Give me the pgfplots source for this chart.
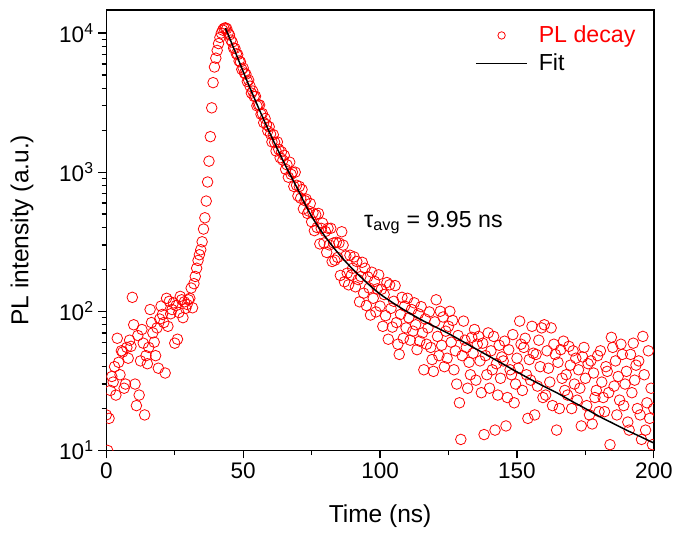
\documentclass[border=0pt]{standalone}
\usepackage{pgfplots}
\pgfplotsset{compat=1.18}
\usepackage{fontspec}
\setmainfont{Liberation Sans}

\pgfplotsset{
    markleg/.style={legend image code/.code={\draw[mark repeat=2,mark phase=2,##1,mark size=2.8pt] plot coordinates {(0pt,0pt) (19.5pt,0pt) (39pt,0pt)}; \path (45pt,0pt);}},
    lineleg/.style={legend image code/.code={\draw[##1] (0pt,0pt) -- (39pt,0pt); \path (45pt,0pt);}},
}

\begin{document}
\begin{tikzpicture}
\begin{axis}[
    name=ax,
    scale only axis,
    width=413.25pt, height=332.5pt,
    xmin=0, xmax=200,
    ymode=log, ymin=10, ymax=14660,
    clip marker paths=true,
    axis line style={line width=1.1pt},
    every tick/.style={black, line width=1pt},
    tick align=outside,
    xtick pos=left, ytick pos=left,
    xtick={0,50,100,150,200},
    xticklabels={0,50,100,150,200},
    minor xtick={25,75,125,175},
    ytick={10,100,1000,10000},
    yticklabels={10\textsuperscript{1},10\textsuperscript{2},10\textsuperscript{3},10\textsuperscript{4}},
    minor ytick={20,30,40,50,60,70,80,90,200,300,400,500,600,700,800,900,2000,3000,4000,5000,6000,7000,8000,9000},
    major tick length=6pt, minor tick length=3.5pt,
    tick label style={font=\fontsize{17}{20}\selectfont},
    xlabel={Time (ns)}, ylabel={PL intensity (a.u.)},
    label style={font=\fontsize{18.5}{22}\selectfont},
    xlabel style={at={(axis description cs:0.5,-0.15)}, anchor=center},
    ylabel style={at={(axis description cs:-0.154,0.5)}, anchor=center},
    legend style={draw=none, fill=none, at={(axis description cs:0.673,0.97)}, anchor=north west,
        font=\fontsize{17.5}{21}\selectfont, row sep=3pt, inner sep=0pt},
    legend cell align=left,
]
% measured decay
\addplot[only marks, mark=o, red, mark size=4pt, mark options={line width=0.6pt}, markleg]
coordinates {
(0.0,18) (0.5,10) (1.0,17) (1.5,27) (2.0,34) (2.5,31) (3.0,40) (3.5,25) (4.0,64) (4.5,43)
(5.0,35) (5.5,52) (6.0,51) (6.5,28) (7.0,30) (7.5,55) (8.0,46) (8.5,62) (9.0,56) (9.5,126)
(10.0,80) (10.5,30) (11.0,21) (11.5,67) (12.0,25) (12.5,44) (13.0,74) (13.5,59) (14.0,18) (14.5,48)
(15.0,42) (15.5,55) (16.0,103) (16.5,83) (17.0,70) (17.5,60) (18.0,48) (18.5,76) (19.0,39) (19.5,88)
(20.0,109) (20.5,95) (21.0,83) (21.5,36) (22.0,124) (22.5,78) (23.0,118) (23.5,96) (24.0,103) (24.5,115)
(25.0,59) (25.5,110) (26.0,63) (26.5,98) (27.0,128) (27.5,121) (28.0,90) (28.5,117) (29.0,105) (29.5,112)
(30.0,121) (30.5,124) (31.0,147) (31.5,106) (32.0,158) (32.5,178) (33.0,204) (33.5,232) (34.0,255) (34.5,277)
(35.0,316) (35.5,390) (36.0,470) (36.5,620) (37.0,850) (37.5,1200) (38.0,1800) (38.5,2900) (39.0,4400) (39.5,5700)
(40.0,6600) (40.5,7500) (41.0,8400) (41.5,9300) (42.0,10000) (42.5,10500) (43.0,10800) (43.5,10900) (44.0,10750) (44.5,10000)
(45.0,9700) (45.5,8900) (46.0,8600) (46.5,7800) (47.0,7750) (47.5,7100) (48.0,7000) (48.5,6300) (49.0,6200) (49.5,5480)
(50.0,5600) (50.5,5150) (51.0,5060) (51.5,4490) (52.0,4590) (52.5,4150) (53.0,3700) (53.5,3830) (54.0,3500) (54.5,3510)
(55.0,3000) (55.5,3050) (56.0,3040) (56.5,2610) (57.0,2640) (57.5,2270) (58.0,2430) (58.5,2200) (59.0,1980) (59.5,2120)
(60.0,1880) (60.5,1650) (61.0,1860) (61.5,1640) (62.0,1420) (62.5,1650) (63.0,1460) (63.5,1270) (64.0,1400) (64.5,1220)
(65.0,1320) (65.5,1050) (66.0,1130) (66.5,920) (67.0,1180) (67.5,965) (68.0,1000) (68.5,790) (69.0,1000) (69.5,805)
(70.0,675) (70.5,790) (71.0,650) (71.5,750) (72.0,545) (72.5,625) (73.0,640) (73.5,505) (74.0,525) (74.5,595)
(75.0,440) (75.5,510) (76.0,380) (76.5,495) (77.0,400) (77.5,505) (78.0,305) (78.5,395) (79.0,430) (79.5,310)
(80.0,375) (80.5,265) (81.0,395) (81.5,300) (82.0,395) (82.5,228) (83.0,310) (83.5,233) (84.0,313) (84.5,244)
(85.0,310) (85.5,181) (86.0,373) (86.5,299) (87.0,163) (87.5,250) (88.0,188) (88.5,155) (89.0,253) (89.5,182)
(90.0,204) (90.5,246) (91.0,150) (91.5,228) (92.0,169) (92.5,117) (93.0,178) (93.5,225) (94.0,135) (94.5,204)
(95.0,110) (95.5,177) (96.0,147) (96.5,94) (97.0,191) (97.5,124) (98.0,164) (98.5,99) (99.0,145) (99.5,183)
(100.0,109) (100.5,144) (101.0,78) (101.5,132) (102.0,93) (102.5,161) (103.0,63) (103.5,155) (104.0,105) (104.5,77)
(105.0,118) (105.5,153) (106.0,83) (106.5,58) (107.0,49) (107.5,95) (108.0,126) (108.5,64) (109.0,109) (109.5,76)
(110.0,124) (110.5,90) (111.0,62) (111.5,103) (112.0,72) (112.5,115) (113.0,80) (113.5,53) (114.0,96) (114.5,61)
(115.0,108) (115.5,70) (116.0,38) (116.5,88) (117.0,58) (117.5,76) (118.0,99) (118.5,55) (119.0,45) (119.5,37)
(120.0,84) (120.5,121) (121.0,66) (121.5,48) (122.0,100) (122.5,57) (123.0,91) (123.5,40) (124.0,72) (124.5,46)
(125.0,78) (125.5,100) (126.0,60) (126.5,86) (127.0,38) (127.5,52) (128.0,30) (128.5,67) (129.0,22) (129.5,12)
(130.0,48) (130.5,85) (131.0,62) (131.5,55) (132.0,28) (132.5,43) (133.0,35) (133.5,65) (134.0,50) (134.5,74)
(135.0,32) (135.5,58) (136.0,66) (136.5,44) (137.0,26) (137.5,59) (138.0,13) (138.5,48) (139.0,35) (139.5,70)
(140.0,28) (140.5,52) (141.0,38) (141.5,66) (142.0,14) (142.5,42) (143.0,25) (143.5,57) (144.0,33) (144.5,47)
(145.0,44) (145.5,61) (146.0,15) (146.5,24) (147.0,53) (147.5,38) (148.0,35) (148.5,68) (149.0,22) (149.5,30)
(150.0,46) (150.5,39) (151.0,85) (151.5,58) (152.0,27) (152.5,55) (153.0,64) (153.5,35) (154.0,17) (154.5,45)
(155.0,32) (155.5,78) (156.0,50) (156.5,18) (157.0,49) (157.5,29) (158.0,62) (158.5,40) (159.0,76) (159.5,24)
(160.0,80) (160.5,25) (161.0,52) (161.5,39) (162.0,31) (162.5,76) (163.0,21) (163.5,58) (164.0,49) (164.5,14)
(165.0,43) (165.5,20) (166.0,53) (166.5,33) (167.0,61) (167.5,27) (168.0,35) (168.5,25) (169.0,56) (169.5,41)
(170.0,20) (170.5,52) (171.0,30) (171.5,46) (172.0,23) (172.5,38) (173.0,28) (173.5,15) (174.0,47) (174.5,55)
(175.0,33) (175.5,21) (176.0,42) (176.5,18) (177.0,44) (177.5,15.5) (178.0,36) (178.5,24) (179.0,27) (179.5,48)
(180.0,19) (180.5,52) (181.0,31) (181.5,24) (182.0,19) (182.5,40) (183.0,37) (183.5,26) (184.0,11) (184.5,65)
(185.0,55) (185.5,29) (186.0,44) (186.5,18) (187.0,34) (187.5,23) (188.0,58) (188.5,49) (189.0,21) (189.5,30)
(190.0,37) (190.5,16) (191.0,14) (191.5,49) (192.0,26) (192.5,59) (193.0,32) (193.5,41) (194.0,20) (194.5,44)
(195.0,18) (195.5,12) (196.0,66) (196.5,35) (197.0,14) (197.5,22) (198.0,52) (198.5,17) (199.0,28) (199.5,11)
(200.0,20)
};
\addlegendentry[text=red]{PL decay}
% fitted curve
\addplot[black, line width=1.1pt, smooth, lineleg]
coordinates {
(43.5,10840) (45,9230) (48,6610) (51,4730) (54,3430) (57,2510) (60,1860) (63,1400) (66,1060)
(70,750) (73,569) (76,447) (80,343) (84,272) (88,221) (92,184) (96,155) (100,133)
(105,114) (110,99) (115,87) (120,77.6) (125,69.2) (130,61) (135,53.7) (140,47.3) (145,41.7)
(150,36.7) (155,32.4) (160,28.8) (165,25.7) (170,22.6) (175,20) (180,17.6) (185,15.7)
(190,14) (195,12.6) (200,11.3)
};
\addlegendentry{Fit}
\node[anchor=base west, font=\fontsize{17.5}{21}\selectfont] at (axis cs:92.5,400) {τ\textsubscript{avg} = 9.95 ns};
\end{axis}
\path ([xshift=-80.25pt,yshift=-59.8pt]ax.south west) rectangle ([xshift=14.25pt,yshift=7.5pt]ax.north east);
\end{tikzpicture}
\end{document}
